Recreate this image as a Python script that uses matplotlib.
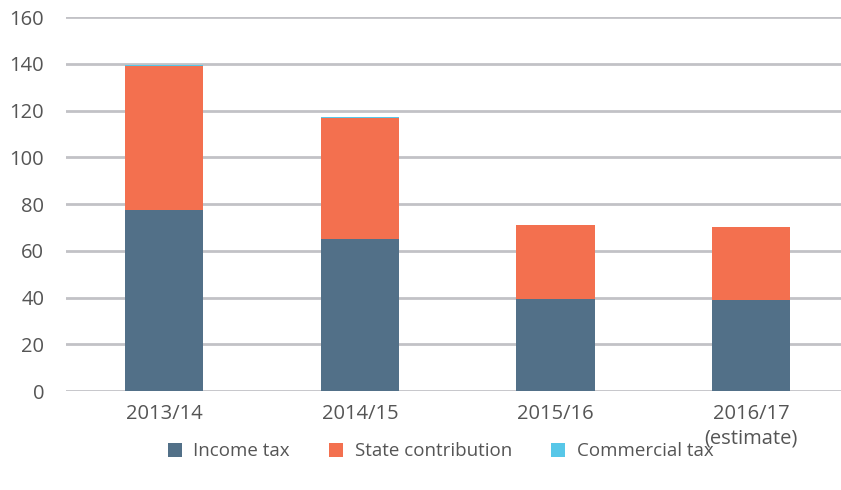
import matplotlib.pyplot as plt
import numpy as np

plt.rcParams['font.family'] = ['Open Sans', 'DejaVu Sans']

years = ['2013/14', '2014/15', '2015/16', '2016/17\n(estimate)']
income_tax = [77.5, 65.0, 39.3, 39.0]
state_contribution = [61.7, 52.0, 31.6, 31.2]
commercial_tax = [0.4, 0.3, 0.2, 0.2]

colors = ['#527088', '#f3704f', '#57c7e8']

fig = plt.figure(figsize=(8.41, 4.90), dpi=100)
ax = fig.add_axes([0.079, 0.202, 0.921, 0.763])

x = np.arange(len(years))
w = 0.4
ax.bar(x, income_tax, w, color=colors[0], label='Income tax', zorder=3)
ax.bar(x, state_contribution, w, bottom=income_tax, color=colors[1],
       label='State contribution', zorder=3)
bottom2 = np.array(income_tax) + np.array(state_contribution)
ax.bar(x, commercial_tax, w, bottom=bottom2, color=colors[2],
       label='Commercial tax', zorder=3)

ax.set_ylim(0, 160)
ax.set_xlim(-0.5, 3.46)
ax.set_yticks(range(0, 161, 20))
ax.set_xticks(x)
ax.set_xticklabels(years, linespacing=1.3)
ax.yaxis.grid(True, color='#c2c2c6', linewidth=2, zorder=0)
for s in ax.spines.values():
    s.set_visible(False)
ax.tick_params(axis='both', length=0, labelsize=14.5, labelcolor='#555555')
ax.tick_params(axis='y', pad=16)
ax.tick_params(axis='x', pad=9)

fig.legend(loc='center', bbox_to_anchor=(0.524, 0.079), ncol=3,
           frameon=False, fontsize=13.5, handlelength=0.75, handleheight=0.75,
           columnspacing=2.1, handletextpad=0.6, labelcolor='#555555')

fig.savefig('out.png', dpi=100)
